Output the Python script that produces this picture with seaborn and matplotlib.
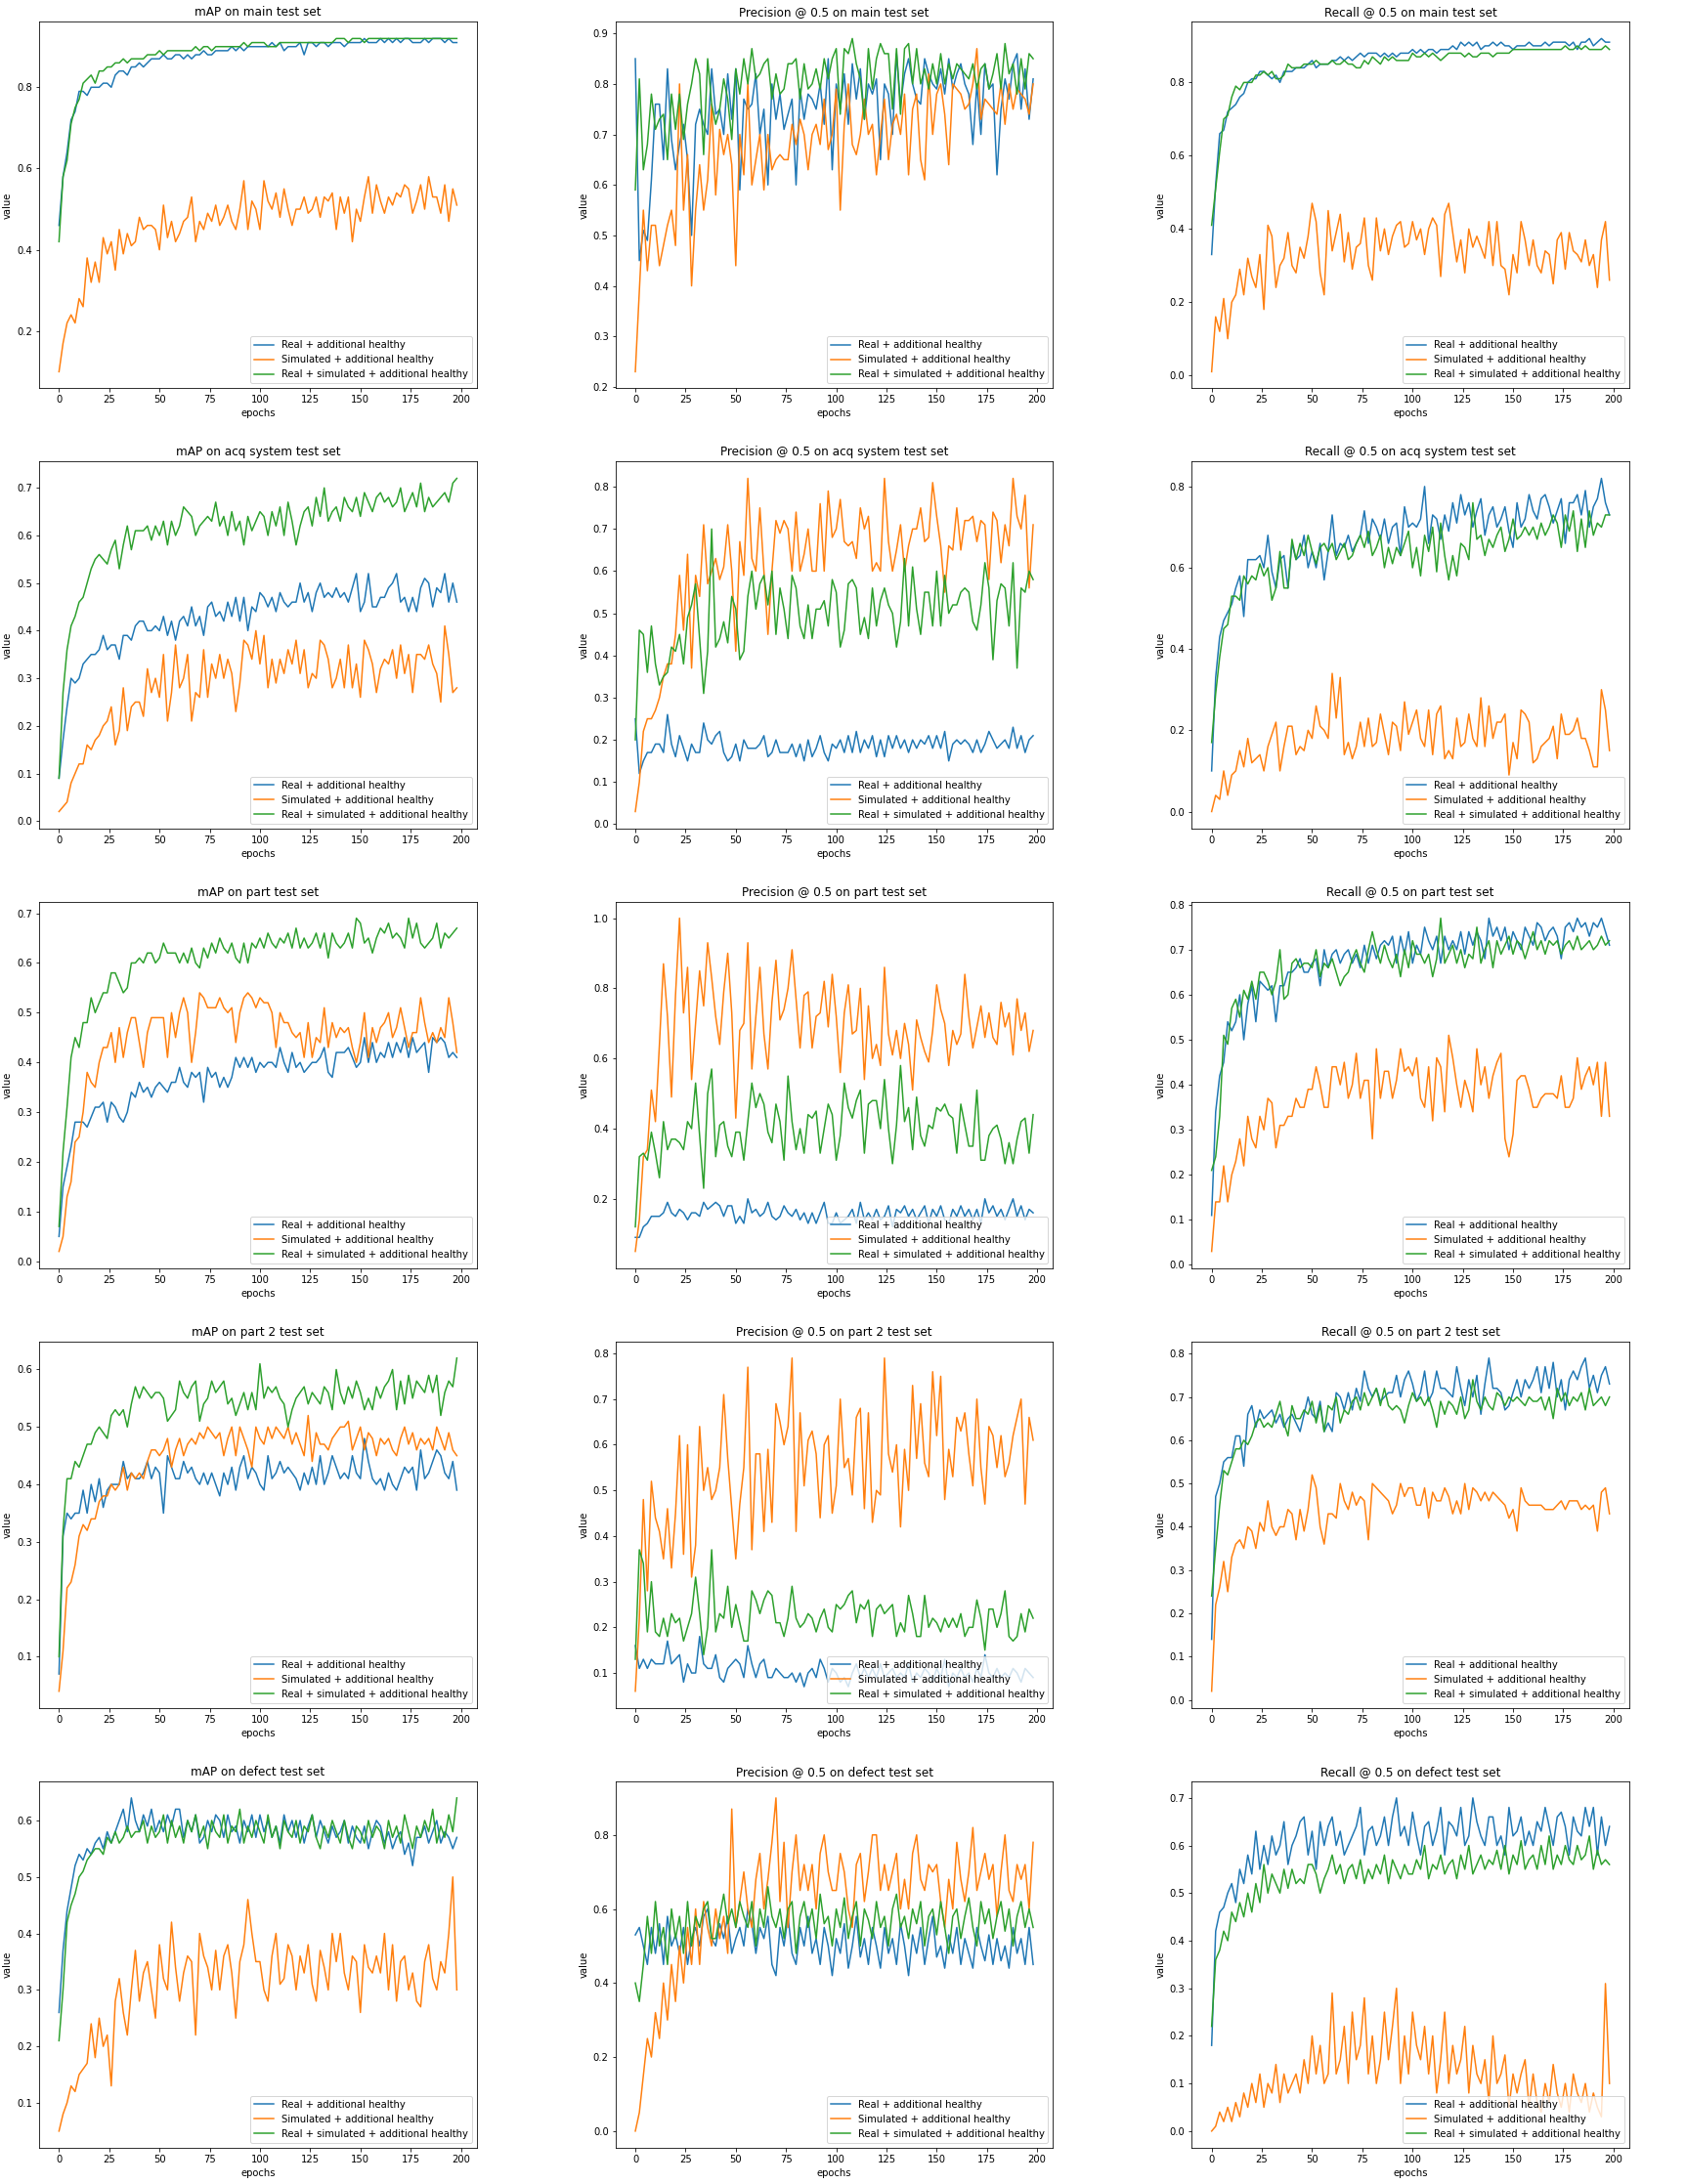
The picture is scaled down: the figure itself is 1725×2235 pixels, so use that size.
import numpy as np
import pandas as pd
import seaborn as sns
import matplotlib.pyplot as plt

runs = ["Real + additional healthy",
        "Simulated + additional healthy",
        "Real + simulated + additional healthy"]
colors = ["#1f77b4", "#ff7f0e", "#2ca02c"]

# metric values in percent, one value every second epoch (0, 2, ..., 198)

# ---- main test set ----
map_main_real = [
    46, 58, 64, 72, 74, 79, 79, 78, 80, 80,
    80, 81, 81, 80, 83, 84, 84, 83, 85, 85,
    86, 85, 86, 87, 87, 87, 88, 87, 87, 88,
    88, 87, 88, 87, 88, 88, 89, 88, 88, 89,
    89, 89, 89, 90, 89, 90, 89, 90, 90, 90,
    90, 90, 90, 91, 90, 91, 89, 90, 90, 90,
    91, 88, 91, 91, 90, 91, 91, 90, 91, 91,
    91, 90, 91, 91, 91, 91, 92, 91, 91, 91,
    92, 91, 92, 91, 92, 91, 92, 92, 91, 91,
    91, 92, 91, 92, 92, 92, 91, 92, 91, 91]
map_main_sim = [
    10, 17, 22, 24, 22, 28, 26, 38, 32, 37,
    32, 43, 39, 42, 35, 45, 39, 44, 41, 42,
    48, 45, 46, 46, 45, 40, 51, 43, 47, 42,
    44, 47, 48, 53, 42, 47, 45, 49, 47, 51,
    46, 48, 51, 47, 45, 50, 57, 45, 52, 50,
    45, 57, 52, 50, 54, 48, 55, 50, 46, 50,
    50, 53, 49, 50, 53, 48, 53, 52, 54, 45,
    53, 49, 53, 42, 50, 47, 53, 58, 49, 56,
    52, 49, 53, 51, 54, 53, 56, 55, 49, 52,
    56, 50, 58, 53, 53, 49, 56, 47, 55, 51]
map_main_both = [
    42, 58, 62, 71, 75, 77, 81, 82, 83, 81,
    84, 84, 85, 85, 86, 86, 87, 86, 87, 87,
    87, 87, 88, 88, 88, 89, 88, 89, 89, 89,
    89, 89, 89, 89, 90, 89, 90, 90, 89, 90,
    90, 90, 90, 90, 90, 90, 91, 90, 91, 91,
    91, 91, 90, 90, 90, 91, 91, 91, 91, 91,
    91, 91, 91, 91, 91, 91, 91, 91, 91, 92,
    92, 92, 91, 92, 92, 92, 91, 92, 92, 92,
    92, 92, 92, 92, 92, 92, 92, 92, 92, 92,
    92, 92, 92, 92, 92, 92, 92, 92, 92, 92]

prec_main_real = [
    85, 45, 51, 49, 61, 76, 76, 65, 83, 69,
    63, 68, 72, 65, 50, 72, 75, 72, 70, 83,
    74, 75, 70, 82, 73, 83, 59, 77, 75, 76,
    82, 70, 75, 60, 80, 73, 78, 71, 74, 77,
    60, 79, 73, 78, 77, 75, 80, 72, 85, 63,
    80, 75, 82, 72, 84, 77, 83, 73, 80, 78,
    81, 65, 80, 78, 70, 86, 76, 82, 85, 80,
    77, 76, 85, 82, 80, 79, 83, 78, 85, 79,
    82, 84, 80, 78, 68, 80, 70, 84, 79, 80,
    62, 75, 81, 77, 84, 86, 75, 83, 73, 81]
prec_main_sim = [
    23, 39, 55, 43, 52, 52, 44, 48, 52, 55,
    48, 80, 55, 66, 40, 55, 64, 55, 61, 76,
    58, 71, 66, 70, 64, 44, 70, 62, 80, 60,
    65, 70, 59, 70, 63, 65, 66, 65, 65, 72,
    68, 73, 70, 63, 70, 72, 68, 77, 67, 70,
    79, 55, 72, 80, 68, 66, 70, 77, 70, 72,
    62, 70, 77, 65, 72, 74, 70, 78, 62, 75,
    78, 65, 61, 82, 70, 78, 80, 74, 64, 80,
    79, 78, 75, 76, 80, 87, 73, 77, 76, 75,
    74, 80, 72, 80, 75, 79, 78, 77, 74, 80]
prec_main_both = [
    59, 81, 63, 68, 78, 71, 73, 74, 65, 78,
    71, 78, 69, 76, 80, 85, 82, 66, 85, 76,
    72, 75, 81, 77, 69, 83, 78, 85, 80, 87,
    81, 82, 84, 85, 77, 82, 78, 79, 84, 84,
    85, 77, 84, 79, 80, 83, 79, 85, 81, 85,
    87, 74, 87, 86, 89, 84, 81, 73, 87, 79,
    85, 88, 86, 86, 75, 87, 74, 87, 88, 80,
    87, 80, 83, 79, 84, 80, 86, 80, 84, 81,
    84, 83, 82, 81, 84, 79, 83, 84, 79, 82,
    86, 79, 88, 82, 84, 78, 85, 79, 86, 85]

rec_main_real = [
    33, 52, 66, 67, 72, 73, 74, 76, 77, 80,
    81, 81, 83, 83, 82, 81, 82, 80, 83, 83,
    83, 84, 84, 84, 85, 86, 84, 85, 85, 85,
    86, 86, 87, 86, 87, 86, 87, 88, 87, 88,
    88, 88, 87, 88, 87, 88, 87, 88, 88, 88,
    89, 88, 89, 88, 89, 89, 88, 89, 89, 89,
    90, 89, 91, 90, 91, 90, 91, 89, 90, 90,
    91, 90, 91, 90, 90, 89, 90, 90, 90, 91,
    90, 90, 90, 91, 90, 91, 91, 91, 91, 90,
    91, 89, 91, 91, 92, 90, 91, 92, 91, 91]
rec_main_sim = [
    1, 16, 12, 21, 10, 20, 22, 29, 22, 32,
    27, 24, 33, 18, 41, 38, 24, 30, 32, 39,
    30, 28, 35, 32, 38, 47, 42, 28, 22, 45,
    34, 39, 44, 31, 39, 29, 35, 36, 43, 30,
    26, 43, 34, 40, 33, 38, 41, 42, 35, 36,
    42, 37, 40, 33, 40, 43, 41, 27, 44, 47,
    39, 31, 37, 28, 40, 35, 38, 35, 32, 42,
    30, 42, 30, 29, 22, 33, 28, 42, 37, 30,
    37, 30, 28, 34, 33, 25, 37, 39, 29, 39,
    34, 33, 31, 37, 30, 33, 24, 37, 42, 26]
rec_main_both = [
    41, 51, 61, 70, 71, 76, 79, 78, 80, 80,
    80, 82, 82, 83, 82, 83, 81, 81, 82, 85,
    84, 84, 84, 85, 85, 85, 86, 85, 85, 85,
    86, 85, 85, 86, 85, 85, 84, 84, 86, 85,
    87, 86, 85, 87, 86, 87, 86, 86, 86, 86,
    88, 87, 87, 88, 87, 88, 87, 86, 87, 88,
    88, 88, 88, 87, 88, 87, 87, 88, 88, 88,
    87, 88, 88, 88, 88, 89, 89, 89, 89, 89,
    89, 89, 89, 89, 89, 89, 89, 89, 90, 89,
    89, 90, 89, 90, 89, 89, 89, 89, 90, 89]

# ---- acq system test set ----
map_acq_real = [
    9, 17, 24, 30, 29, 30, 33, 34, 35, 35,
    36, 39, 36, 37, 37, 34, 39, 39, 38, 41,
    42, 42, 40, 40, 41, 40, 43, 39, 42, 38,
    42, 43, 41, 45, 41, 43, 39, 45, 46, 43,
    44, 42, 46, 43, 47, 42, 47, 40, 45, 44,
    48, 47, 45, 47, 44, 48, 46, 45, 46, 46,
    50, 46, 48, 44, 48, 50, 47, 48, 47, 49,
    47, 48, 46, 49, 52, 44, 46, 52, 45, 45,
    47, 47, 49, 50, 52, 46, 47, 44, 47, 44,
    49, 51, 50, 45, 49, 48, 52, 46, 50, 46]
map_acq_sim = [
    2, 3, 4, 8, 10, 12, 12, 16, 15, 17,
    18, 20, 21, 24, 16, 19, 28, 19, 24, 25,
    25, 22, 32, 27, 30, 26, 35, 21, 27, 37,
    28, 30, 35, 21, 27, 26, 36, 26, 33, 30,
    35, 30, 34, 31, 23, 29, 38, 37, 34, 40,
    33, 39, 28, 34, 29, 34, 31, 36, 33, 38,
    31, 36, 28, 31, 30, 38, 37, 34, 28, 30,
    34, 28, 37, 28, 33, 26, 38, 36, 33, 27,
    32, 34, 33, 36, 30, 37, 31, 35, 27, 35,
    35, 34, 37, 33, 31, 25, 41, 35, 27, 28]
map_acq_both = [
    9, 27, 36, 41, 43, 46, 47, 50, 53, 55,
    56, 55, 54, 57, 59, 53, 58, 62, 57, 61,
    61, 61, 62, 59, 62, 60, 63, 58, 63, 60,
    62, 66, 65, 64, 60, 62, 63, 64, 63, 67,
    62, 64, 60, 65, 61, 63, 58, 64, 61, 63,
    65, 64, 60, 65, 62, 66, 60, 67, 63, 58,
    62, 65, 66, 62, 68, 64, 70, 63, 65, 66,
    63, 68, 66, 65, 68, 64, 69, 67, 65, 68,
    69, 67, 68, 66, 67, 70, 65, 67, 69, 66,
    71, 65, 68, 66, 67, 68, 69, 67, 71, 72]

prec_acq_real = [
    25, 12, 15, 17, 17, 19, 19, 17, 26, 19,
    16, 21, 18, 15, 19, 17, 17, 24, 20, 19,
    21, 22, 17, 15, 16, 19, 15, 20, 18, 18,
    18, 19, 21, 16, 17, 20, 17, 17, 17, 19,
    16, 19, 15, 20, 16, 18, 21, 17, 15, 19,
    18, 20, 17, 21, 17, 22, 17, 20, 18, 21,
    16, 20, 16, 21, 18, 21, 18, 20, 17, 20,
    18, 20, 19, 21, 18, 21, 18, 22, 15, 19,
    20, 19, 20, 19, 17, 20, 17, 19, 22, 20,
    18, 19, 20, 18, 23, 18, 21, 17, 20, 21]
prec_acq_sim = [
    3, 10, 22, 25, 25, 27, 30, 35, 38, 38,
    45, 59, 46, 64, 37, 59, 54, 71, 57, 60,
    63, 58, 61, 71, 60, 41, 67, 59, 82, 63,
    60, 75, 60, 45, 60, 72, 69, 72, 70, 60,
    74, 60, 64, 70, 60, 60, 76, 60, 79, 68,
    70, 77, 67, 66, 67, 63, 75, 70, 73, 60,
    62, 60, 82, 67, 60, 65, 71, 60, 66, 70,
    70, 75, 67, 68, 81, 73, 66, 55, 66, 65,
    75, 65, 72, 72, 73, 67, 72, 71, 58, 74,
    72, 62, 71, 66, 82, 73, 70, 78, 56, 71]
prec_acq_both = [
    20, 46, 45, 36, 47, 38, 33, 35, 36, 42,
    41, 45, 38, 49, 52, 57, 44, 31, 41, 70,
    42, 44, 48, 43, 54, 51, 39, 41, 54, 60,
    51, 57, 59, 52, 60, 45, 56, 51, 44, 59,
    56, 47, 44, 52, 44, 51, 51, 53, 47, 58,
    55, 42, 46, 57, 58, 56, 45, 49, 44, 56,
    47, 53, 56, 52, 50, 42, 48, 63, 47, 61,
    51, 45, 55, 55, 47, 60, 47, 59, 50, 52,
    52, 55, 56, 55, 48, 46, 52, 62, 56, 39,
    53, 57, 56, 47, 62, 37, 56, 55, 60, 58]

rec_acq_real = [
    10, 33, 43, 47, 49, 51, 55, 58, 48, 62,
    62, 62, 63, 60, 68, 59, 55, 62, 63, 55,
    66, 62, 63, 68, 60, 64, 60, 66, 57, 64,
    73, 63, 66, 65, 68, 64, 66, 68, 74, 66,
    72, 70, 67, 72, 66, 70, 71, 63, 75, 70,
    71, 70, 72, 80, 66, 73, 72, 67, 73, 69,
    76, 71, 78, 73, 76, 70, 74, 77, 68, 73,
    75, 70, 72, 75, 69, 65, 76, 70, 72, 78,
    74, 72, 77, 78, 75, 71, 74, 77, 66, 76,
    76, 78, 73, 79, 70, 75, 77, 82, 76, 73]
rec_acq_sim = [
    0, 4, 3, 10, 4, 9, 10, 15, 11, 18,
    12, 13, 14, 10, 16, 19, 22, 10, 16, 21,
    21, 14, 16, 15, 20, 18, 26, 21, 20, 18,
    34, 23, 33, 14, 17, 13, 16, 22, 16, 23,
    16, 17, 24, 19, 14, 22, 21, 15, 27, 19,
    22, 25, 18, 16, 25, 14, 24, 26, 13, 15,
    13, 23, 16, 17, 24, 18, 16, 28, 16, 26,
    18, 22, 22, 24, 9, 17, 13, 25, 24, 22,
    12, 13, 16, 17, 18, 21, 13, 24, 19, 19,
    20, 23, 18, 18, 15, 11, 11, 30, 25, 15]
rec_acq_both = [
    17, 29, 38, 45, 46, 53, 53, 52, 58, 56,
    58, 57, 61, 58, 60, 52, 55, 64, 55, 55,
    67, 62, 66, 63, 68, 64, 61, 65, 66, 64,
    66, 62, 64, 66, 62, 63, 66, 68, 65, 69,
    63, 65, 68, 60, 65, 61, 65, 63, 66, 69,
    60, 65, 58, 68, 64, 70, 59, 71, 63, 57,
    63, 58, 66, 65, 62, 76, 67, 68, 63, 67,
    65, 68, 70, 64, 67, 72, 67, 68, 70, 68,
    70, 67, 71, 68, 70, 73, 71, 65, 73, 69,
    74, 64, 72, 65, 74, 68, 71, 70, 73, 73]

# ---- part test set ----
map_part_real = [
    5, 15, 19, 23, 28, 28, 28, 27, 29, 31,
    31, 32, 28, 32, 31, 29, 28, 30, 34, 33,
    36, 34, 35, 33, 35, 36, 35, 34, 36, 36,
    39, 36, 35, 38, 37, 38, 32, 39, 37, 38,
    35, 37, 35, 37, 41, 39, 41, 39, 41, 38,
    40, 39, 40, 40, 39, 43, 40, 38, 42, 39,
    40, 38, 39, 40, 40, 41, 43, 38, 37, 42,
    42, 42, 43, 41, 39, 40, 45, 40, 44, 40,
    42, 41, 44, 41, 44, 42, 45, 41, 45, 42,
    43, 44, 38, 45, 44, 45, 44, 41, 42, 41]
map_part_sim = [
    2, 5, 13, 16, 24, 25, 30, 38, 36, 35,
    40, 43, 43, 46, 40, 47, 41, 46, 49, 49,
    44, 39, 46, 49, 49, 49, 49, 41, 50, 45,
    50, 53, 50, 40, 46, 54, 53, 51, 51, 51,
    53, 51, 50, 51, 44, 50, 53, 54, 53, 51,
    53, 52, 52, 50, 43, 50, 48, 48, 46, 45,
    46, 41, 48, 41, 45, 44, 51, 43, 48, 45,
    47, 46, 47, 43, 40, 44, 50, 41, 47, 44,
    47, 48, 50, 45, 47, 51, 47, 43, 46, 46,
    53, 48, 44, 46, 44, 47, 45, 53, 48, 42]
map_part_both = [
    7, 22, 31, 41, 45, 43, 48, 48, 53, 50,
    52, 54, 54, 58, 58, 56, 54, 55, 60, 60,
    61, 60, 62, 62, 60, 61, 64, 62, 62, 62,
    60, 62, 60, 63, 60, 59, 63, 61, 64, 62,
    65, 63, 62, 64, 61, 60, 64, 60, 64, 63,
    65, 63, 66, 64, 63, 65, 64, 66, 63, 67,
    63, 65, 63, 64, 66, 63, 66, 61, 66, 64,
    63, 64, 66, 63, 69, 68, 64, 65, 62, 65,
    67, 66, 68, 65, 66, 65, 63, 69, 65, 68,
    64, 63, 64, 65, 68, 63, 66, 65, 66, 67]

prec_part_real = [
    9, 9, 12, 13, 15, 15, 15, 16, 19, 16,
    15, 17, 16, 14, 16, 16, 15, 19, 17, 18,
    19, 18, 15, 18, 18, 13, 15, 13, 20, 16,
    17, 15, 16, 19, 15, 14, 15, 18, 16, 15,
    17, 14, 16, 13, 16, 13, 16, 19, 13, 13,
    16, 13, 14, 15, 17, 13, 19, 14, 16, 14,
    17, 14, 15, 18, 12, 17, 16, 18, 15, 17,
    14, 16, 18, 13, 17, 15, 18, 14, 13, 17,
    15, 18, 15, 17, 14, 17, 13, 20, 16, 18,
    15, 17, 14, 17, 20, 15, 18, 14, 17, 16]
prec_part_sim = [
    5, 14, 32, 34, 51, 42, 64, 87, 72, 49,
    78, 100, 73, 86, 54, 70, 85, 75, 93, 83,
    72, 64, 79, 90, 73, 43, 68, 70, 93, 57,
    72, 86, 67, 57, 76, 88, 71, 74, 80, 91,
    77, 63, 78, 79, 63, 72, 73, 82, 69, 84,
    72, 56, 73, 81, 67, 68, 80, 54, 75, 60,
    64, 58, 86, 67, 61, 68, 60, 70, 64, 51,
    71, 66, 62, 59, 68, 81, 74, 70, 58, 68,
    64, 67, 84, 72, 63, 69, 75, 66, 73, 66,
    64, 76, 69, 73, 61, 77, 68, 73, 62, 68]
prec_part_both = [
    12, 32, 33, 31, 39, 33, 26, 42, 34, 37,
    37, 36, 34, 42, 40, 53, 38, 23, 50, 57,
    32, 41, 42, 35, 32, 39, 39, 31, 42, 53,
    46, 50, 47, 39, 36, 47, 42, 31, 55, 42,
    34, 40, 33, 44, 43, 45, 33, 40, 47, 44,
    31, 38, 53, 46, 43, 48, 51, 33, 47, 48,
    48, 40, 54, 40, 30, 41, 58, 42, 46, 34,
    49, 38, 35, 41, 40, 46, 45, 47, 44, 43,
    33, 47, 41, 35, 35, 51, 31, 31, 38, 40,
    41, 37, 30, 36, 30, 37, 42, 43, 33, 44]

rec_part_real = [
    11, 34, 42, 45, 54, 52, 54, 60, 50, 58,
    62, 54, 63, 62, 61, 62, 54, 62, 62, 65,
    65, 66, 68, 65, 65, 67, 68, 62, 70, 66,
    69, 70, 67, 69, 70, 67, 69, 66, 71, 67,
    71, 68, 71, 72, 71, 73, 67, 73, 69, 74,
    67, 71, 69, 75, 72, 70, 73, 67, 73, 70,
    72, 70, 74, 69, 74, 71, 74, 72, 68, 77,
    73, 75, 72, 75, 70, 74, 72, 70, 75, 73,
    71, 76, 75, 72, 74, 75, 73, 68, 75, 76,
    74, 77, 75, 76, 73, 76, 75, 77, 74, 71]
rec_part_sim = [
    3, 14, 14, 22, 14, 20, 23, 28, 22, 33,
    28, 26, 33, 30, 37, 36, 26, 31, 31, 33,
    33, 37, 35, 35, 39, 39, 44, 40, 35, 35,
    44, 44, 40, 45, 37, 40, 47, 37, 41, 41,
    28, 48, 37, 43, 43, 37, 41, 48, 43, 44,
    42, 46, 37, 35, 44, 32, 46, 44, 34, 51,
    46, 40, 35, 41, 38, 34, 48, 40, 44, 37,
    42, 45, 47, 28, 24, 29, 41, 42, 42, 39,
    35, 35, 37, 38, 38, 38, 37, 42, 35, 35,
    37, 46, 39, 42, 44, 40, 45, 33, 45, 33]
rec_part_both = [
    21, 24, 33, 51, 49, 57, 59, 55, 61, 59,
    63, 59, 65, 65, 63, 60, 63, 70, 59, 60,
    67, 68, 66, 67, 67, 66, 70, 64, 67, 66,
    68, 65, 62, 64, 65, 68, 70, 67, 65, 70,
    74, 70, 67, 71, 68, 66, 69, 64, 70, 66,
    72, 69, 69, 67, 69, 64, 68, 77, 67, 69,
    71, 67, 70, 66, 69, 68, 75, 67, 70, 72,
    66, 72, 69, 71, 73, 69, 72, 71, 68, 71,
    74, 70, 72, 69, 72, 71, 72, 69, 71, 72,
    70, 73, 70, 71, 72, 70, 71, 73, 71, 72]

# ---- part 2 test set ----
map_part2_real = [
    7, 31, 35, 34, 35, 35, 39, 35, 40, 37,
    41, 36, 39, 40, 40, 40, 44, 41, 42, 41,
    41, 42, 44, 41, 43, 42, 35, 45, 43, 41,
    41, 44, 42, 43, 41, 40, 42, 40, 42, 40,
    38, 42, 40, 43, 39, 43, 45, 41, 43, 42,
    40, 39, 45, 41, 42, 44, 42, 43, 42, 41,
    39, 42, 40, 43, 40, 45, 40, 42, 45, 43,
    41, 42, 41, 45, 42, 41, 48, 44, 41, 40,
    41, 39, 42, 40, 39, 41, 43, 42, 43, 39,
    46, 41, 42, 44, 46, 45, 42, 41, 44, 39]
map_part2_sim = [
    4, 11, 22, 23, 26, 31, 33, 32, 34, 34,
    37, 38, 38, 40, 39, 40, 43, 39, 42, 41,
    42, 41, 44, 46, 46, 45, 46, 48, 43, 46,
    48, 45, 47, 48, 47, 49, 48, 50, 49, 48,
    49, 45, 48, 50, 45, 50, 48, 46, 43, 50,
    48, 47, 50, 48, 50, 49, 48, 50, 47, 49,
    47, 45, 52, 44, 49, 47, 47, 46, 48, 49,
    50, 50, 51, 46, 48, 50, 46, 49, 48, 45,
    48, 47, 48, 46, 45, 48, 50, 47, 49, 46,
    48, 47, 48, 46, 50, 48, 46, 49, 46, 45]
map_part2_both = [
    10, 32, 41, 41, 44, 43, 45, 47, 47, 49,
    50, 49, 48, 52, 53, 52, 53, 50, 54, 57,
    55, 57, 56, 55, 56, 56, 55, 51, 52, 53,
    58, 56, 55, 57, 58, 51, 54, 55, 58, 56,
    57, 58, 54, 55, 52, 54, 56, 53, 56, 53,
    61, 55, 57, 56, 57, 55, 54, 50, 53, 55,
    56, 57, 54, 56, 55, 54, 57, 56, 53, 60,
    56, 54, 57, 55, 58, 56, 53, 55, 53, 57,
    55, 57, 58, 60, 53, 58, 54, 59, 55, 58,
    57, 56, 59, 56, 59, 52, 56, 58, 57, 62]

prec_part2_real = [
    16, 11, 13, 11, 13, 12, 12, 12, 17, 12,
    13, 14, 8, 12, 10, 10, 18, 12, 11, 11,
    14, 9, 8, 11, 12, 13, 12, 9, 16, 12,
    9, 12, 13, 9, 9, 11, 10, 9, 9, 10,
    8, 10, 7, 10, 11, 9, 13, 11, 8, 11,
    10, 8, 9, 7, 10, 12, 9, 11, 9, 11,
    9, 12, 9, 10, 11, 9, 10, 9, 12, 8,
    10, 9, 11, 10, 8, 11, 9, 13, 7, 10,
    9, 11, 9, 10, 8, 11, 9, 14, 10, 9,
    11, 9, 10, 9, 11, 10, 8, 11, 10, 9]
prec_part2_sim = [
    6, 22, 48, 28, 52, 44, 41, 35, 46, 33,
    45, 62, 36, 60, 31, 38, 64, 50, 55, 48,
    50, 55, 71, 57, 46, 35, 47, 55, 77, 37,
    58, 58, 41, 59, 43, 69, 65, 60, 64, 79,
    41, 67, 51, 61, 63, 58, 44, 60, 62, 45,
    51, 70, 55, 57, 49, 66, 68, 46, 67, 43,
    50, 49, 79, 58, 54, 60, 42, 59, 50, 73,
    57, 69, 56, 53, 76, 62, 75, 48, 59, 53,
    66, 63, 67, 58, 51, 70, 55, 47, 64, 62,
    55, 62, 53, 56, 62, 66, 70, 47, 66, 61]
prec_part2_both = [
    13, 37, 34, 19, 30, 19, 18, 22, 18, 23,
    21, 22, 17, 20, 23, 31, 23, 14, 20, 37,
    19, 23, 22, 29, 20, 25, 21, 17, 17, 28,
    26, 23, 26, 28, 27, 21, 21, 18, 22, 29,
    22, 20, 21, 23, 22, 19, 22, 24, 20, 19,
    25, 24, 25, 27, 28, 21, 25, 24, 26, 18,
    24, 25, 23, 24, 25, 18, 21, 19, 27, 23,
    18, 18, 27, 20, 22, 21, 19, 22, 20, 22,
    20, 23, 18, 20, 20, 26, 22, 15, 24, 24,
    20, 23, 28, 18, 17, 18, 23, 19, 24, 22]

rec_part2_real = [
    14, 47, 50, 55, 56, 56, 61, 61, 54, 66,
    68, 63, 67, 65, 66, 67, 64, 66, 63, 65,
    66, 64, 62, 66, 70, 66, 65, 69, 62, 64,
    62, 71, 70, 67, 71, 67, 72, 69, 76, 72,
    70, 72, 69, 70, 71, 71, 75, 70, 74, 76,
    73, 69, 71, 76, 69, 71, 76, 72, 72, 71,
    70, 77, 72, 68, 74, 70, 75, 66, 73, 79,
    72, 72, 71, 67, 68, 71, 74, 70, 74, 72,
    74, 77, 71, 77, 72, 78, 70, 74, 67, 74,
    76, 74, 77, 79, 72, 75, 71, 75, 77, 73]
rec_part2_sim = [
    2, 22, 26, 32, 25, 33, 36, 37, 35, 40,
    39, 35, 41, 39, 46, 40, 38, 40, 40, 44,
    43, 37, 44, 39, 44, 52, 49, 40, 36, 43,
    43, 42, 50, 46, 44, 48, 45, 47, 46, 37,
    50, 49, 48, 47, 46, 43, 45, 50, 47, 49,
    49, 45, 45, 49, 42, 48, 46, 46, 49, 47,
    43, 46, 43, 50, 44, 49, 48, 46, 48, 46,
    48, 47, 46, 45, 42, 44, 39, 49, 46, 45,
    45, 45, 45, 44, 44, 44, 45, 46, 44, 46,
    46, 46, 44, 45, 44, 45, 39, 48, 49, 43]
rec_part2_both = [
    24, 35, 45, 53, 52, 55, 58, 58, 60, 59,
    61, 64, 65, 63, 64, 63, 66, 69, 64, 61,
    68, 65, 65, 67, 66, 69, 64, 68, 62, 68,
    67, 70, 64, 67, 66, 69, 70, 67, 71, 68,
    70, 72, 68, 72, 68, 67, 68, 67, 64, 68,
    71, 69, 70, 68, 70, 67, 63, 69, 66, 69,
    68, 66, 70, 65, 67, 74, 69, 67, 70, 68,
    67, 71, 70, 68, 70, 69, 70, 69, 68, 70,
    69, 69, 70, 67, 70, 65, 72, 69, 71, 68,
    70, 69, 71, 67, 72, 68, 69, 70, 68, 70]

# ---- defect test set ----
map_defect_real = [
    26, 37, 44, 48, 52, 54, 53, 55, 54, 56,
    57, 55, 58, 56, 58, 60, 62, 58, 64, 60,
    58, 61, 59, 62, 58, 60, 58, 61, 59, 62,
    62, 57, 60, 58, 61, 56, 57, 60, 58, 61,
    60, 57, 61, 58, 59, 56, 60, 58, 61, 57,
    61, 58, 60, 57, 59, 56, 61, 58, 60, 57,
    60, 56, 59, 61, 57, 60, 58, 56, 59, 57,
    58, 60, 56, 59, 57, 56, 59, 55, 58, 60,
    59, 56, 58, 55, 57, 58, 54, 56, 52, 57,
    57, 59, 56, 58, 60, 56, 58, 57, 55, 57]
map_defect_sim = [
    5, 8, 10, 13, 12, 15, 16, 17, 24, 18,
    25, 20, 22, 13, 28, 32, 26, 22, 30, 37,
    28, 33, 35, 30, 25, 38, 32, 30, 42, 34,
    28, 33, 36, 35, 22, 40, 36, 34, 30, 37,
    30, 36, 38, 33, 25, 35, 38, 46, 40, 35,
    35, 30, 28, 36, 40, 31, 32, 38, 36, 30,
    36, 33, 38, 31, 28, 37, 34, 30, 40, 35,
    40, 33, 30, 36, 35, 26, 38, 34, 33, 36,
    33, 40, 30, 38, 28, 35, 36, 30, 33, 28,
    27, 35, 38, 32, 30, 35, 33, 40, 50, 30]
map_defect_both = [
    21, 30, 42, 45, 47, 50, 51, 53, 54, 55,
    55, 54, 57, 56, 58, 56, 57, 59, 57, 58,
    58, 60, 56, 59, 57, 58, 61, 56, 60, 57,
    59, 56, 60, 58, 61, 57, 59, 55, 60, 58,
    57, 61, 56, 59, 58, 62, 56, 59, 57, 60,
    58, 56, 61, 57, 59, 55, 60, 58, 57, 60,
    56, 59, 58, 61, 57, 55, 59, 57, 60, 58,
    56, 60, 57, 55, 59, 58, 56, 60, 57, 59,
    58, 55, 60, 57, 59, 56, 61, 58, 55, 59,
    57, 60, 58, 62, 56, 59, 57, 61, 58, 64]

prec_defect_real = [
    53, 55, 50, 45, 55, 48, 56, 45, 58, 50,
    53, 48, 55, 45, 52, 55, 50, 58, 60, 52,
    50, 56, 52, 58, 48, 52, 55, 50, 60, 56,
    48, 55, 52, 58, 45, 42, 55, 50, 58, 48,
    45, 55, 50, 58, 48, 52, 45, 55, 50, 42,
    52, 48, 56, 44, 50, 58, 47, 52, 45, 55,
    50, 44, 55, 48, 52, 45, 56, 50, 42, 53,
    48, 55, 45, 52, 58, 47, 50, 44, 53, 48,
    55, 45, 52, 48, 44, 55, 50, 46, 53, 45,
    52, 46, 50, 44, 55, 48, 52, 45, 55, 45]
prec_defect_sim = [
    0, 5, 15, 25, 20, 32, 25, 40, 30, 45,
    35, 50, 40, 55, 45, 60, 45, 62, 55, 50,
    60, 52, 58, 48, 87, 55, 62, 70, 60, 55,
    68, 75, 60, 68, 78, 90, 62, 78, 55, 70,
    80, 65, 72, 65, 72, 60, 75, 80, 70, 65,
    65, 75, 70, 60, 55, 72, 75, 62, 70, 80,
    80, 65, 72, 65, 70, 75, 60, 68, 60, 75,
    80, 68, 65, 72, 70, 72, 62, 55, 68, 60,
    78, 68, 62, 70, 82, 65, 70, 75, 68, 72,
    58, 70, 80, 65, 62, 72, 68, 72, 60, 78]
prec_defect_both = [
    40, 35, 45, 58, 48, 62, 50, 55, 45, 60,
    52, 58, 48, 62, 50, 58, 55, 60, 62, 52,
    52, 58, 64, 56, 60, 55, 62, 58, 55, 62,
    50, 60, 55, 66, 58, 55, 60, 52, 60, 62,
    48, 58, 62, 55, 60, 52, 64, 56, 58, 50,
    60, 55, 63, 52, 58, 62, 50, 60, 57, 52,
    62, 55, 58, 50, 60, 64, 55, 58, 52, 60,
    56, 62, 50, 58, 60, 53, 62, 55, 48, 58,
    60, 52, 58, 63, 55, 50, 62, 56, 60, 52,
    58, 62, 54, 60, 50, 58, 62, 55, 60, 55]

rec_defect_real = [
    18, 42, 46, 47, 50, 52, 48, 55, 52, 58,
    54, 63, 55, 60, 56, 62, 58, 60, 65, 56,
    60, 62, 65, 66, 58, 63, 55, 65, 60, 64,
    66, 60, 63, 58, 60, 62, 64, 68, 58, 63,
    64, 60, 62, 66, 60, 66, 70, 62, 64, 60,
    67, 62, 58, 64, 65, 60, 63, 68, 58, 65,
    64, 62, 68, 60, 62, 70, 65, 62, 60, 66,
    66, 60, 62, 58, 68, 62, 63, 66, 60, 63,
    60, 65, 63, 68, 64, 60, 66, 67, 64, 58,
    66, 63, 62, 68, 64, 68, 58, 66, 60, 64]
rec_defect_sim = [
    0, 1, 4, 2, 5, 2, 6, 3, 8, 5,
    10, 6, 12, 5, 10, 8, 14, 6, 12, 8,
    10, 12, 8, 15, 10, 20, 12, 18, 10, 12,
    29, 12, 15, 22, 10, 25, 15, 18, 28, 12,
    20, 10, 15, 25, 15, 22, 30, 10, 20, 12,
    25, 18, 15, 22, 12, 20, 8, 15, 25, 10,
    18, 12, 15, 22, 8, 18, 12, 10, 15, 6,
    20, 10, 12, 16, 5, 12, 8, 12, 15, 5,
    12, 6, 4, 10, 6, 14, 8, 5, 10, 4,
    12, 8, 6, 10, 4, 8, 5, 3, 31, 10]
rec_defect_both = [
    22, 36, 38, 42, 40, 46, 44, 48, 45, 50,
    46, 52, 48, 56, 50, 54, 52, 50, 55, 51,
    55, 52, 53, 52, 56, 56, 54, 50, 53, 55,
    58, 54, 56, 52, 55, 56, 53, 57, 52, 55,
    53, 56, 54, 58, 52, 57, 55, 53, 56, 54,
    54, 57, 55, 60, 53, 56, 55, 58, 54, 56,
    57, 53, 58, 55, 60, 54, 56, 58, 55, 57,
    56, 59, 55, 60, 54, 58, 56, 61, 55, 57,
    58, 55, 60, 56, 62, 55, 58, 56, 60, 57,
    56, 60, 57, 58, 62, 55, 59, 56, 57, 56]

panels = [
    ("mAP on main test set", map_main_real, map_main_sim, map_main_both),
    ("Precision @ 0.5 on main test set", prec_main_real, prec_main_sim, prec_main_both),
    ("Recall @ 0.5 on main test set", rec_main_real, rec_main_sim, rec_main_both),
    ("mAP on acq system test set", map_acq_real, map_acq_sim, map_acq_both),
    ("Precision @ 0.5 on acq system test set", prec_acq_real, prec_acq_sim, prec_acq_both),
    ("Recall @ 0.5 on acq system test set", rec_acq_real, rec_acq_sim, rec_acq_both),
    ("mAP on part test set", map_part_real, map_part_sim, map_part_both),
    ("Precision @ 0.5 on part test set", prec_part_real, prec_part_sim, prec_part_both),
    ("Recall @ 0.5 on part test set", rec_part_real, rec_part_sim, rec_part_both),
    ("mAP on part 2 test set", map_part2_real, map_part2_sim, map_part2_both),
    ("Precision @ 0.5 on part 2 test set", prec_part2_real, prec_part2_sim, prec_part2_both),
    ("Recall @ 0.5 on part 2 test set", rec_part2_real, rec_part2_sim, rec_part2_both),
    ("mAP on defect test set", map_defect_real, map_defect_sim, map_defect_both),
    ("Precision @ 0.5 on defect test set", prec_defect_real, prec_defect_sim, prec_defect_both),
    ("Recall @ 0.5 on defect test set", rec_defect_real, rec_defect_sim, rec_defect_both),
]


def to_frame(series):
    parts = []
    for name, vals in zip(runs, series):
        vals = np.asarray(vals, dtype=float) / 100
        parts.append(pd.DataFrame({"epochs": np.arange(len(vals)) * 2,
                                   "value": vals, "run": name}))
    return pd.concat(parts, ignore_index=True)


# the original was rendered at 72 dpi, so text and lines stay small
fig, axes = plt.subplots(5, 3, figsize=(1725 / 72, 2235 / 72), dpi=72)
fig.subplots_adjust(left=0.0232, right=0.9664, top=0.990, bottom=0.0166,
                    wspace=0.317, hspace=0.2)

for ax, (title, *series) in zip(axes.flat, panels):
    df = to_frame(series)
    sns.lineplot(data=df, x="epochs", y="value", hue="run", hue_order=runs,
                 palette=colors, errorbar=None, linewidth=1.5, ax=ax)
    sns.move_legend(ax, "lower right", title=None)
    ax.set_title(title)
    ax.set_xticks([0, 25, 50, 75, 100, 125, 150, 175, 200])

fig.savefig("out.png", dpi=72)
